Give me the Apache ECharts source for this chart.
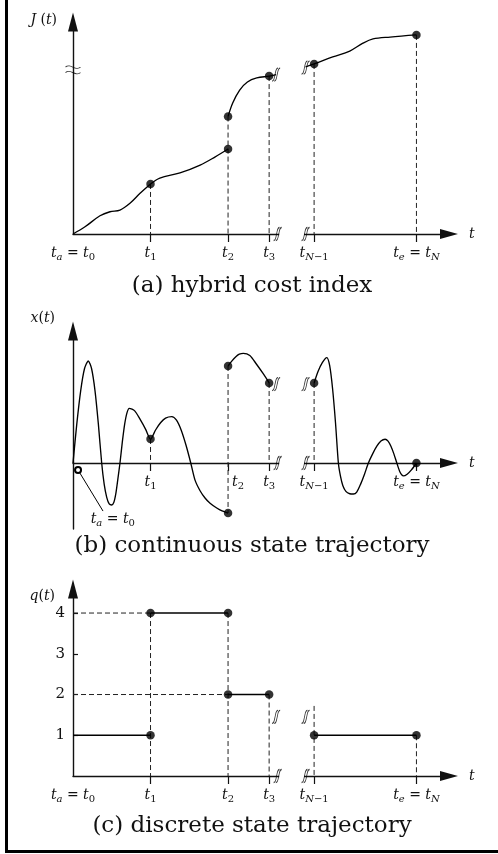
<!DOCTYPE html>
<html><head><meta charset="utf-8">
<script src="https://cdn.jsdelivr.net/npm/echarts@6/dist/echarts.min.js"></script>
<style>html,body{margin:0;padding:0;background:#fff}#c{width:498px;height:854px}</style>
</head><body><div id="c"></div>
<script>
// ---------- data ----------
const tValues = [0, 1, 2, 2.53, 3.11, 4.43];           // t0 .. tN (schematic time)
const tickTs = [1, 2, 2.53, 3.11, 4.43];
const tLabelsA = ['t_a = t_0', 't_1', 't_2', 't_3', 't_{N-1}', 't_e = t_N'];
const tLabelsB = ['', 't_1', 't_2', 't_3', 't_{N-1}', 't_e = t_N'];
const tLabelsC = ['t_a = t_0', 't_1', 't_2', 't_3', 't_{N-1}', 't_e = t_N'];
const captions = ['(a) hybrid cost index', '(b) continuous state trajectory', '(c) discrete state trajectory'];
const yNames = ['J (t)', 'x(t)', 'q(t)'];

// (a) hybrid cost J(t)
const jSeg1T = [0, 0.155, 0.348, 0.477, 0.606, 0.735, 0.865, 1];
const jSeg1V = [0, 0.34, 0.86, 1.05, 1.13, 1.45, 1.92, 2.36];
const jSeg2T = [1, 1.12, 1.38, 1.64, 1.83, 2];
const jSeg2V = [2.36, 2.64, 2.88, 3.25, 3.63, 4.01];
const jSeg3T = [2, 2.06, 2.15, 2.25, 2.37, 2.53, 2.62];
const jSeg3V = [5.54, 6.18, 6.79, 7.17, 7.36, 7.45, 7.52];
const jSeg4T = [3.0, 3.11, 3.35, 3.57, 3.74, 3.87, 4.09, 4.43];
const jSeg4V = [7.88, 8.02, 8.35, 8.63, 9.0, 9.2, 9.29, 9.39];
const jPointT = [1, 2, 2, 2.53, 3.11, 4.43];
const jPointV = [2.36, 4.01, 5.54, 7.45, 8.02, 9.39];
const jBreaks = [[2.62, 7.52], [3.0, 7.85], [2.64, 0], [3.0, 0]];
const jAxisBreak = [[0, 7.74]];

// (b) continuous state x(t)
const xSeg1T = [0, 0.049, 0.099, 0.148, 0.197, 0.240, 0.284, 0.327, 0.370, 0.402, 0.435, 0.467, 0.499,
  0.526, 0.553, 0.579, 0.606, 0.636, 0.666, 0.697, 0.726, 0.796, 0.866, 0.937, 1,
  1.065, 1.129, 1.194, 1.274, 1.335, 1.396, 1.458, 1.519, 1.574, 1.639, 1.703, 1.768, 1.854, 1.923, 2];
const xSeg1V = [0, 2.96, 5.47, 7.14, 7.73, 7.14, 5.47, 2.96, 0, -1.6, -2.6, -3.1, -3.18,
  -3.0, -2.3, -1.2, 0, 1.58, 2.93, 3.82, 4.14, 3.95, 3.3, 2.55, 1.80,
  2.5, 3.05, 3.4, 3.51, 3.24, 2.48, 1.34, 0, -1.3, -2.1, -2.65, -3.05, -3.41, -3.63, -3.79];
const xSeg2T = [2, 2.048, 2.097, 2.145, 2.197, 2.281, 2.365, 2.449, 2.532];
const xSeg2V = [7.35, 7.72, 8.03, 8.24, 8.31, 8.14, 7.5, 6.8, 6.06];
const xSeg3T = [3.11, 3.158, 3.216, 3.274, 3.311, 3.348, 3.386, 3.423, 3.45, 3.48, 3.52, 3.57, 3.617,
  3.66, 3.71, 3.76, 3.81, 3.865, 3.919, 3.972, 4.026, 4.064, 4.101, 4.139, 4.177, 4.219, 4.26, 4.31, 4.368, 4.43];
const xSeg3V = [6.06, 6.9, 7.6, 7.98, 7.37, 5.64, 3.05, 0, -1.0, -1.7, -2.15, -2.33, -2.35,
  -2.2, -1.6, -0.85, 0, 0.69, 1.27, 1.66, 1.8, 1.66, 1.27, 0.69, 0, -0.7, -0.98, -0.85, -0.5, 0];
const xPointT = [1, 2, 2, 2.53, 3.11, 4.43];
const xPointV = [1.82, 7.35, -3.79, 6.06, 6.06, 0];
const xBreaks = [[2.62, 5.98], [3.0, 5.98], [2.64, 0], [3.0, 0]];
const xNote = [[0.065, -0.53], [0.387, -3.64]];
const xNoteLabel = [0.52, -4.32];

// (c) discrete state q(t)
const qStart = [0, 1, 2, 3.11];
const qEnd = [1, 2, 2.53, 4.43];
const qLevel = [1, 4, 2, 1];
const qPointT = [1, 1, 2, 2, 2.53, 3.11, 4.43];
const qPointV = [1, 4, 4, 2, 2, 1, 1];
const qTicks = [1, 2, 3, 4];
const qDashTop = [4, 4, 2, 1.72, 1];   // top of dashed guide at each of tickTs
const qBreaks = [[2.62, 1.45], [3.0, 1.45], [2.64, 0], [3.0, 0]];

// ---------- styling / helpers ----------
const FONT = 'DejaVu Serif';
const INK = '#111';
const rich = {
  i: {fontFamily: FONT, fontStyle: 'italic', fontSize: 14, lineHeight: 14, verticalAlign: 'top', color: INK},
  r: {fontFamily: FONT, fontSize: 14, lineHeight: 14, verticalAlign: 'top', color: INK},
  si: {fontFamily: FONT, fontStyle: 'italic', fontSize: 10, lineHeight: 10, padding: [6, 0, 0, 0], verticalAlign: 'top', color: INK},
  sr: {fontFamily: FONT, fontSize: 10, lineHeight: 10, padding: [6, 0, 0, 0], verticalAlign: 'top', color: INK},
  pad: {width: 20, fontSize: 14, lineHeight: 14, verticalAlign: 'top'}
};
function styl(text, sub) {
  let out = '';
  const runs = text.replace(/-/g, '\u2212').match(/[A-Za-z]+|[^A-Za-z]+/g) || [];
  runs.forEach(r => {
    const it = /[A-Za-z]/.test(r);
    const k = (sub ? 's' : '') + (it ? 'i' : 'r');
    out += '{' + k + '|' + r + '}';
  });
  return out;
}
function toRich(s) {
  let out = '', i = 0;
  while (i < s.length) {
    if (s[i] === '_') {
      let sub;
      if (s[i + 1] === '{') { const j = s.indexOf('}', i); sub = s.slice(i + 2, j); i = j + 1; }
      else { sub = s[i + 1]; i += 2; }
      out += styl(sub, true);
    } else {
      let j = i; while (j < s.length && s[j] !== '_') j++;
      out += styl(s.slice(i, j), false); i = j;
    }
  }
  return out;
}

const XMAX = 4.85;
const grids = [
  {left: 73, width: 376, top: 22, height: 212},
  {left: 73, width: 376, top: 331, height: 198},
  {left: 73, width: 376, top: 589, height: 187}
];
const yRanges = [[0, 10], [-5, 10], [0, 4.59]];
const nameGaps = [2, 13, -7];
const namePads = [16, 18, 18];
const labelSets = [tLabelsA, tLabelsB, tLabelsC];

const axisLineStyle = {color: INK, width: 1.4};
const xAxes = grids.map((g, k) => ({
  gridIndex: k, type: 'value', min: 0, max: XMAX, position: 'bottom',
  // place the time axis on the zero level of the state axis
  offset: -(0 - yRanges[k][0]) / (yRanges[k][1] - yRanges[k][0]) * g.height,
  axisLine: {onZero: false, symbol: ['none', 'triangle'], symbolSize: [10, 18], lineStyle: axisLineStyle},
  axisTick: {show: true, customValues: tickTs, length: 8, lineStyle: {color: INK, width: 1.2}},
  axisLabel: {
    show: true, customValues: tValues, margin: 12, rich: rich,
    formatter: v => {
      const idx = tValues.findIndex(t => Math.abs(t - v) < 1e-6);
      const s = idx >= 0 ? labelSets[k][idx] : '';
      if (!s) return '';
      return (k === 1 && idx === 2 ? '{pad| }' : '') + toRich(s);
    }
  },
  splitLine: {show: false},
  name: 't', nameLocation: 'end', nameGap: 20,
  nameTextStyle: {fontFamily: FONT, fontStyle: 'italic', fontSize: 14, color: INK, verticalAlign: 'middle'}
}));
const yAxes = grids.map((g, k) => ({
  gridIndex: k, type: 'value', min: yRanges[k][0], max: yRanges[k][1],
  axisLine: {onZero: false, symbol: ['none', 'triangle'], symbolSize: [10, 19], lineStyle: axisLineStyle},
  axisTick: k === 2 ? {show: true, customValues: qTicks, inside: true, length: 5, lineStyle: {color: INK, width: 1.2}} : {show: false},
  axisLabel: k === 2 ? {show: true, customValues: qTicks, margin: 8, fontFamily: FONT, fontSize: 15, color: INK} : {show: false},
  splitLine: {show: false},
  name: styl(yNames[k], false), nameLocation: 'end', nameGap: nameGaps[k],
  nameTextStyle: {align: 'right', verticalAlign: 'middle', padding: [0, namePads[k], 0, 0], rich: {
    i: {fontFamily: FONT, fontStyle: 'italic', fontSize: 14, color: INK},
    r: {fontFamily: FONT, fontSize: 14, color: INK}
  }}
}));

const series = [];
function curve(k, ts, vs, sm) {
  series.push({type: 'line', xAxisIndex: k, yAxisIndex: k, data: ts.map((t, i) => [t, vs[i]]),
    smooth: sm, showSymbol: false, silent: true, z: 3, lineStyle: {color: '#000', width: 1.35}});
}
function straight(k, pts, width) {
  series.push({type: 'line', xAxisIndex: k, yAxisIndex: k, data: pts, showSymbol: false, silent: true, z: 3,
    lineStyle: {color: '#000', width: width || 1.3}});
}
function dashed(k, pts) {
  series.push({type: 'line', xAxisIndex: k, yAxisIndex: k, data: pts, showSymbol: false, silent: true, z: 2,
    lineStyle: {color: '#222', width: 1, type: [5, 3]}});
}
function dots(k, ts, vs) {
  series.push({type: 'scatter', xAxisIndex: k, yAxisIndex: k, data: ts.map((t, i) => [t, vs[i]]),
    symbol: 'circle', symbolSize: 8.5, silent: true, z: 6, itemStyle: {color: '#000'}});
}
const BREAK_PATH = 'path://M0,14 C3,14 3,10 4,7 C5,4 5,0 8,0 M3,14 C6,14 6,10 7,7 C8,4 8,0 11,0';
function breaks(k, pts) {
  series.push({type: 'line', xAxisIndex: k, yAxisIndex: k, data: [[pts[2][0] + 0.02, 0], [pts[3][0] - 0.02, 0]],
    showSymbol: false, silent: true, z: 4, lineStyle: {color: '#fff', width: 6}});
  series.push({type: 'scatter', xAxisIndex: k, yAxisIndex: k, data: pts, symbol: BREAK_PATH, symbolSize: [8, 13],
    silent: true, z: 5, itemStyle: {color: 'rgba(0,0,0,0)', borderColor: '#000', borderWidth: 1}});
}

// panel (a)
[[jSeg1T, jSeg1V], [jSeg2T, jSeg2V], [jSeg3T, jSeg3V], [jSeg4T, jSeg4V]].forEach(s => curve(0, s[0], s[1], 0.35));
tickTs.forEach(t => {
  const top = Math.max(...jPointT.map((pt, i) => Math.abs(pt - t) < 1e-6 ? jPointV[i] : -Infinity));
  dashed(0, [[t, top], [t, 0]]);
});
dots(0, jPointT, jPointV);
breaks(0, jBreaks);
series.push({type: 'scatter', xAxisIndex: 0, yAxisIndex: 0, data: jAxisBreak,
  symbol: 'path://M0,4 C4,0 8,8 12,4 M0,9 C4,5 8,13 12,9', symbolSize: [15, 8], silent: true, z: 5,
  itemStyle: {color: 'rgba(0,0,0,0)', borderColor: '#000', borderWidth: 1}});

// panel (b)
[[xSeg1T, xSeg1V], [xSeg2T, xSeg2V], [xSeg3T, xSeg3V]].forEach(s => curve(1, s[0], s[1], 0.25));
tickTs.forEach(t => {
  const vals = xPointT.map((pt, i) => Math.abs(pt - t) < 1e-6 ? xPointV[i] : null).filter(v => v !== null);
  const hi = Math.max(0, ...vals), lo = Math.min(0, ...vals);
  if (hi !== lo) dashed(1, [[t, hi], [t, lo]]);
});
dots(1, xPointT, xPointV);
breaks(1, xBreaks);
series.push({type: 'line', xAxisIndex: 1, yAxisIndex: 1, silent: true, z: 4,
  data: [{value: xNote[0], symbol: 'emptyCircle', symbolSize: 6}, {value: xNote[1], symbol: 'none'}],
  showSymbol: true, itemStyle: {color: '#000', borderWidth: 1}, lineStyle: {color: '#000', width: 1}});
series.push({type: 'scatter', xAxisIndex: 1, yAxisIndex: 1, silent: true, z: 7, data: [xNoteLabel],
  symbolSize: 1, itemStyle: {color: 'rgba(0,0,0,0)', opacity: 1},
  label: {show: true, position: [0, 0], align: 'center', verticalAlign: 'middle', color: INK,
    formatter: () => toRich(tLabelsA[0]), rich: rich}});

// panel (c)
qLevel.forEach((q, i) => straight(2, [[qStart[i], q], [qEnd[i], q]], 1.4));
dashed(2, [[0, 4], [1, 4]]);
dashed(2, [[0, 2], [2, 2]]);
tickTs.forEach((t, idx) => dashed(2, [[t, qDashTop[idx]], [t, 0]]));
dots(2, qPointT, qPointV);
breaks(2, qBreaks);

const option = {
  animation: false,
  backgroundColor: '#fff',
  grid: grids,
  xAxis: xAxes,
  yAxis: yAxes,
  title: captions.map((c, k) => ({
    text: c, left: 252, top: [275, 535, 815][k], textAlign: 'center', padding: 0,
    textStyle: {fontFamily: FONT, fontSize: 23, fontWeight: 'normal', color: INK}
  })),
  graphic: [
    {type: 'line', shape: {x1: 6.5, y1: 0, x2: 6.5, y2: 853}, style: {stroke: '#000', lineWidth: 3}},
    {type: 'line', shape: {x1: 5, y1: 851.5, x2: 498, y2: 851.5}, style: {stroke: '#000', lineWidth: 3}}
  ],
  series: series
};
const chart = echarts.init(document.getElementById('c'), null, {renderer: 'canvas'});
chart.setOption(option);
</script>
</body></html>
